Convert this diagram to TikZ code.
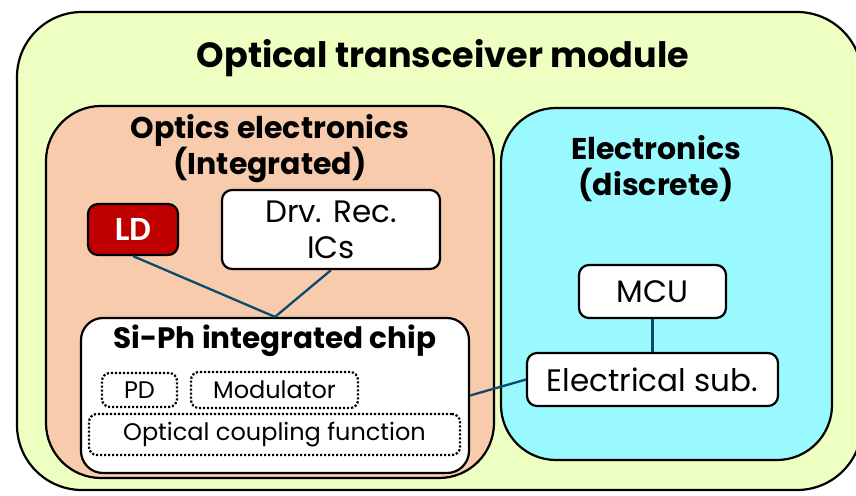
\documentclass[tikz,border=0pt]{standalone}
\usepackage{fontspec}
\setmainfont{Poppins}
\newfontfamily\ldfont{Carlito}
\definecolor{outerfill}{HTML}{EEFFC2}
\definecolor{orangefill}{HTML}{F8CBAD}
\definecolor{cyanfill}{HTML}{99F9FF}
\definecolor{ldred}{HTML}{C00000}
\definecolor{wire}{HTML}{0B4A6F}
\tikzset{
  region/.style={draw=black, line width=2.2pt, rounded corners=55pt, inner sep=0pt},
  wbox/.style={draw=black, line width=2.2pt, fill=white, rounded corners=10pt, inner sep=0pt, align=center},
  dbox/.style={draw=black, line width=2.2pt, dash pattern=on 2.2pt off 1.8pt, rounded corners=8pt, inner sep=0pt},
  wirel/.style={draw=wire, line width=2.3pt},
  bigtxt/.style={font=\fontsize{30}{36}\selectfont\bfseries, align=center, inner sep=0pt},
  midtxt/.style={font=\fontsize{31}{36}\selectfont},
  smtxt/.style={font=\fontsize{24}{28}\selectfont},
}
\begin{document}
\begin{tikzpicture}[x=1pt,y=-1pt]
\useasboundingbox (0,0) rectangle (856,495);
\fill[white] (0,0) rectangle (856,495);
\begin{scope}
\clip (0,0) rectangle (856,495);
\node[region, rounded corners=65pt, fill=outerfill, minimum width=845pt, minimum height=478pt] (outer) at (439.5,251) {};
\end{scope}
\node[font=\fontsize{35}{40}\selectfont\bfseries, inner sep=0pt] (title) at (443,58) {Optical transceiver module};
\node[region, fill=orangefill, minimum width=448pt, minimum height=372pt] (optics) at (270,292) {};
\node[region, fill=cyanfill, minimum width=331pt, minimum height=352pt] (elec) at (666.5,284) {};
\node[bigtxt] (opticst) at (270,149) {Optics electronics\\(Integrated)};
\node[bigtxt] (elect) at (656,169) {Electronics\\(discrete)};
\node[wbox, fill=ldred, minimum width=90pt, minimum height=51pt, font=\ldfont\fontsize{34}{36}\selectfont\bfseries, text=white] (ld) at (133,229.5) {LD};
\node[wbox, minimum width=218pt, minimum height=79pt, midtxt] (drv) at (331,229.5) {Drv. Rec.\\ICs};
\node[wbox, rounded corners=22pt, minimum width=388pt, minimum height=155pt] (chip) at (275,395.5) {};
\node[font=\fontsize{29.5}{36}\selectfont\bfseries, inner sep=0pt] (chipt) at (275,341) {Si-Ph integrated chip};
\node[dbox, minimum width=75pt, minimum height=34pt, smtxt] (pd) at (139.5,390) {PD};
\node[dbox, minimum width=167pt, minimum height=36pt, smtxt] (mod) at (274.5,390) {Modulator};
\node[dbox, minimum width=371pt, minimum height=41pt, smtxt] (opt) at (274.5,434.5) {Optical coupling function};
\node[wbox, minimum width=147pt, minimum height=53pt, midtxt] (mcu) at (652.5,291.5) {MCU};
\node[wbox, minimum width=251pt, minimum height=53pt, midtxt] (sub) at (652.5,379.5) {Electrical sub.};
\draw[wirel] (ld.south) -- (chip.north);
\draw[wirel] (drv.south) -- (chip.north);
\draw[wirel] (chip.east) -- (sub.west);
\draw[wirel] (mcu.south) -- (sub.north);
\end{tikzpicture}
\end{document}
